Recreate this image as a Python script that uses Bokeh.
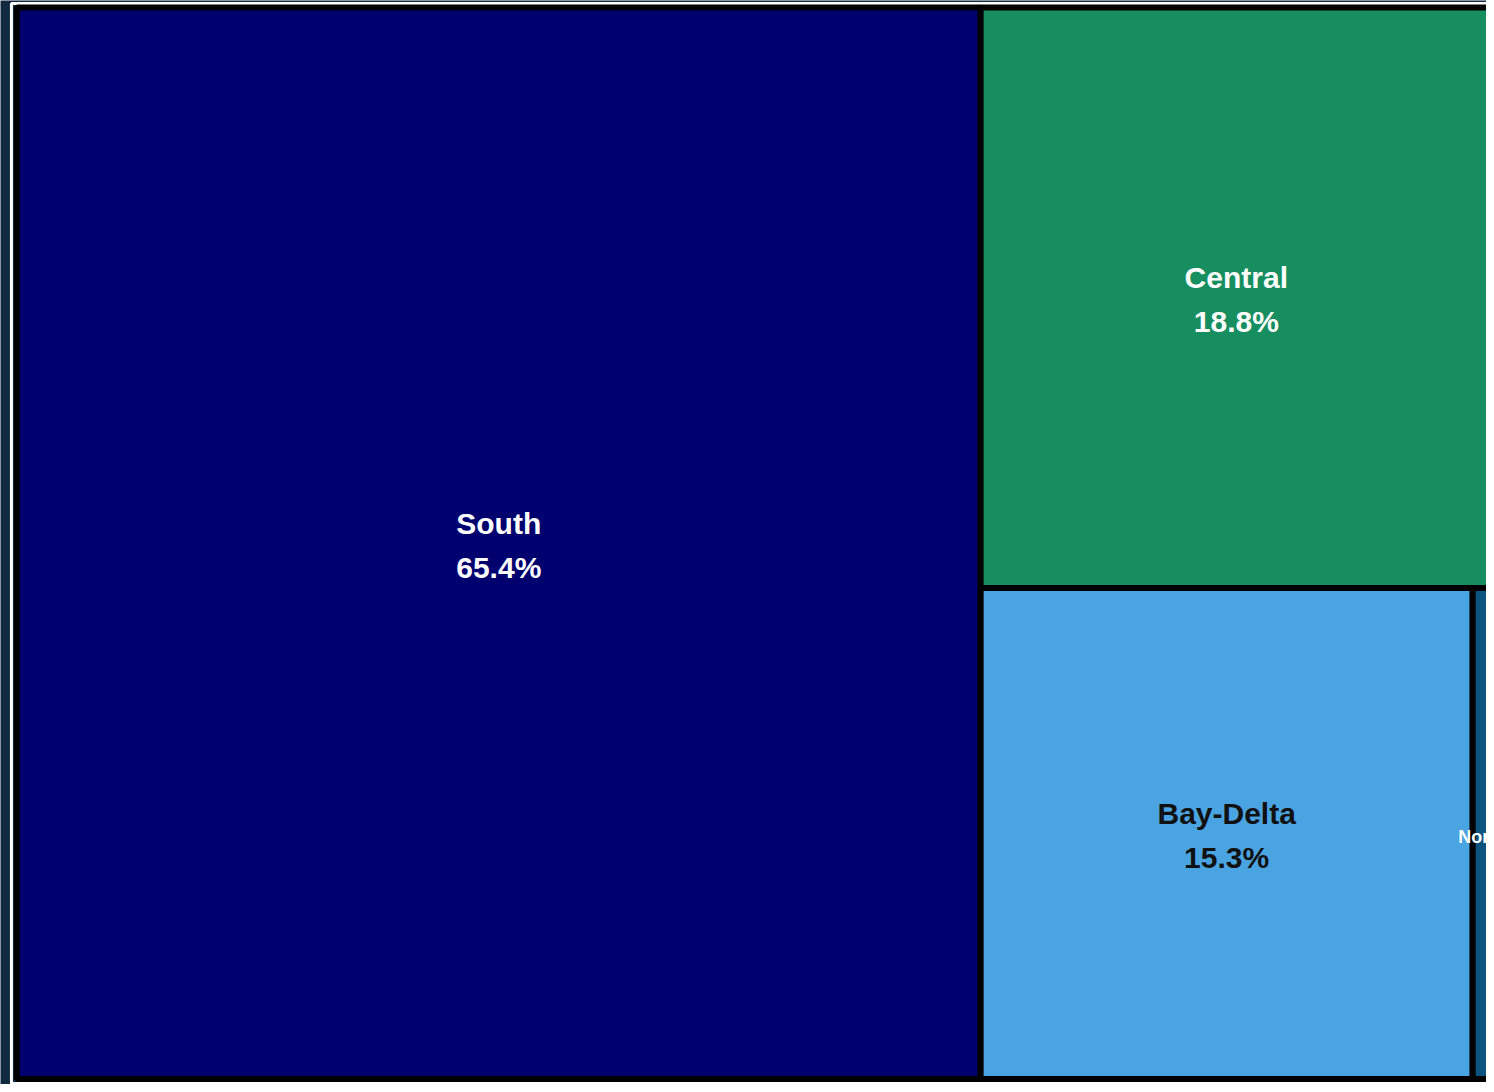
from bokeh.plotting import figure
from bokeh.models import ColumnDataSource, Range1d
from bokeh.core.properties import value
from bokeh.embed import file_html
from bokeh.resources import INLINE

# ---- data ----
regions = ["South", "Central", "Bay-Delta", "North"]
shares = [65.4, 18.8, 15.3, 0.6]
colors = ["#00006f", "#178e5f", "#4aa4e2", "#0d5380"]
text_colors = ["#ffffff", "#ffffff", "#111111", "#ffffff"]

BG = "#122a40"
W, H = 1483.0, 1079.5


def worst(row, side):
    s = sum(row)
    return max(max(side * side * r / (s * s), s * s / (side * side * r)) for r in row)


def layout_row(row, x, y, w, h):
    s = sum(row)
    out = []
    if w >= h:
        cw = s / h
        cy = y
        for r in row:
            rh = r / cw
            out.append((x, cy, cw, rh))
            cy += rh
        return out, (x + cw, y, w - cw, h)
    rh = s / w
    cx = x
    for r in row:
        rw = r / rh
        out.append((cx, y, rw, rh))
        cx += rw
    return out, (x, y + rh, w, h - rh)


def squarify(vals, x, y, w, h):
    tot = sum(vals)
    areas = [v / tot * w * h for v in vals]
    rects = []
    while areas:
        side = min(w, h)
        row = [areas.pop(0)]
        while areas and worst(row + [areas[0]], side) <= worst(row, side):
            row.append(areas.pop(0))
        r, (x, y, w, h) = layout_row(row, x, y, w, h)
        rects += r
    return rects


rects = squarify(shares, 0.0, 0.0, W, H)
left = [r[0] for r in rects]
right = [r[0] + r[2] for r in rects]
top = [r[1] for r in rects]
bottom = [r[1] + r[3] for r in rects]
cx = [(a + b) / 2 for a, b in zip(left, right)]
cy = [(a + b) / 2 for a, b in zip(top, bottom)]

src = ColumnDataSource(dict(left=left, right=right, top=top, bottom=bottom,
                            color=colors))

big = [i for i, r in enumerate(rects) if r[2] > 100]
small = [i for i, r in enumerate(rects) if r[2] <= 100]

lab_big = ColumnDataSource(dict(
    x=[cx[i] for i in big], y=[cy[i] for i in big],
    name=[regions[i] for i in big],
    pct=["{:.1f}%".format(shares[i]) for i in big],
    tc=[text_colors[i] for i in big]))
lab_small = ColumnDataSource(dict(
    x=[cx[i] for i in small], y=[cy[i] for i in small],
    name=[regions[i] for i in small],
    tc=[text_colors[i] for i in small]))

p = figure(width=1486, height=1084, output_backend="svg", toolbar_location=None,
           x_range=Range1d(-16.5, 1494 - 16.5), y_range=Range1d(1085, -7),
           min_border=0, x_axis_location=None, y_axis_location=None)
p.background_fill_color = BG
p.border_fill_color = BG
p.outline_line_color = None
p.xgrid.visible = False
p.ygrid.visible = False

# white frame around the treemap
p.quad(left=[-5.5], right=[W + 20], top=[-4], bottom=[H + 4.5],
       fill_color=None, line_color="#ffffff", line_width=3)

p.quad(left="left", right="right", top="top", bottom="bottom", source=src,
       fill_color="color", line_color="#000000", line_width=6)

p.text(x="x", y="y", text="name", source=lab_big, text_color="tc",
       text_font=value("Liberation Sans"), text_font_style="bold",
       text_font_size="30px", text_align="center", text_baseline="middle",
       y_offset=-20)
p.text(x="x", y="y", text="pct", source=lab_big, text_color="tc",
       text_font=value("Liberation Sans"), text_font_style="bold",
       text_font_size="30px", text_align="center", text_baseline="middle",
       y_offset=24)
p.text(x="x", y="y", text="name", source=lab_small, text_color="tc",
       text_font=value("Liberation Sans"), text_font_style="bold",
       text_font_size="18px", text_align="center", text_baseline="middle",
       y_offset=3)

html = file_html(p, INLINE)
html = html.replace("<body>", '<body style="background:%s">' % BG, 1)
open("out.html", "w").write(html)
